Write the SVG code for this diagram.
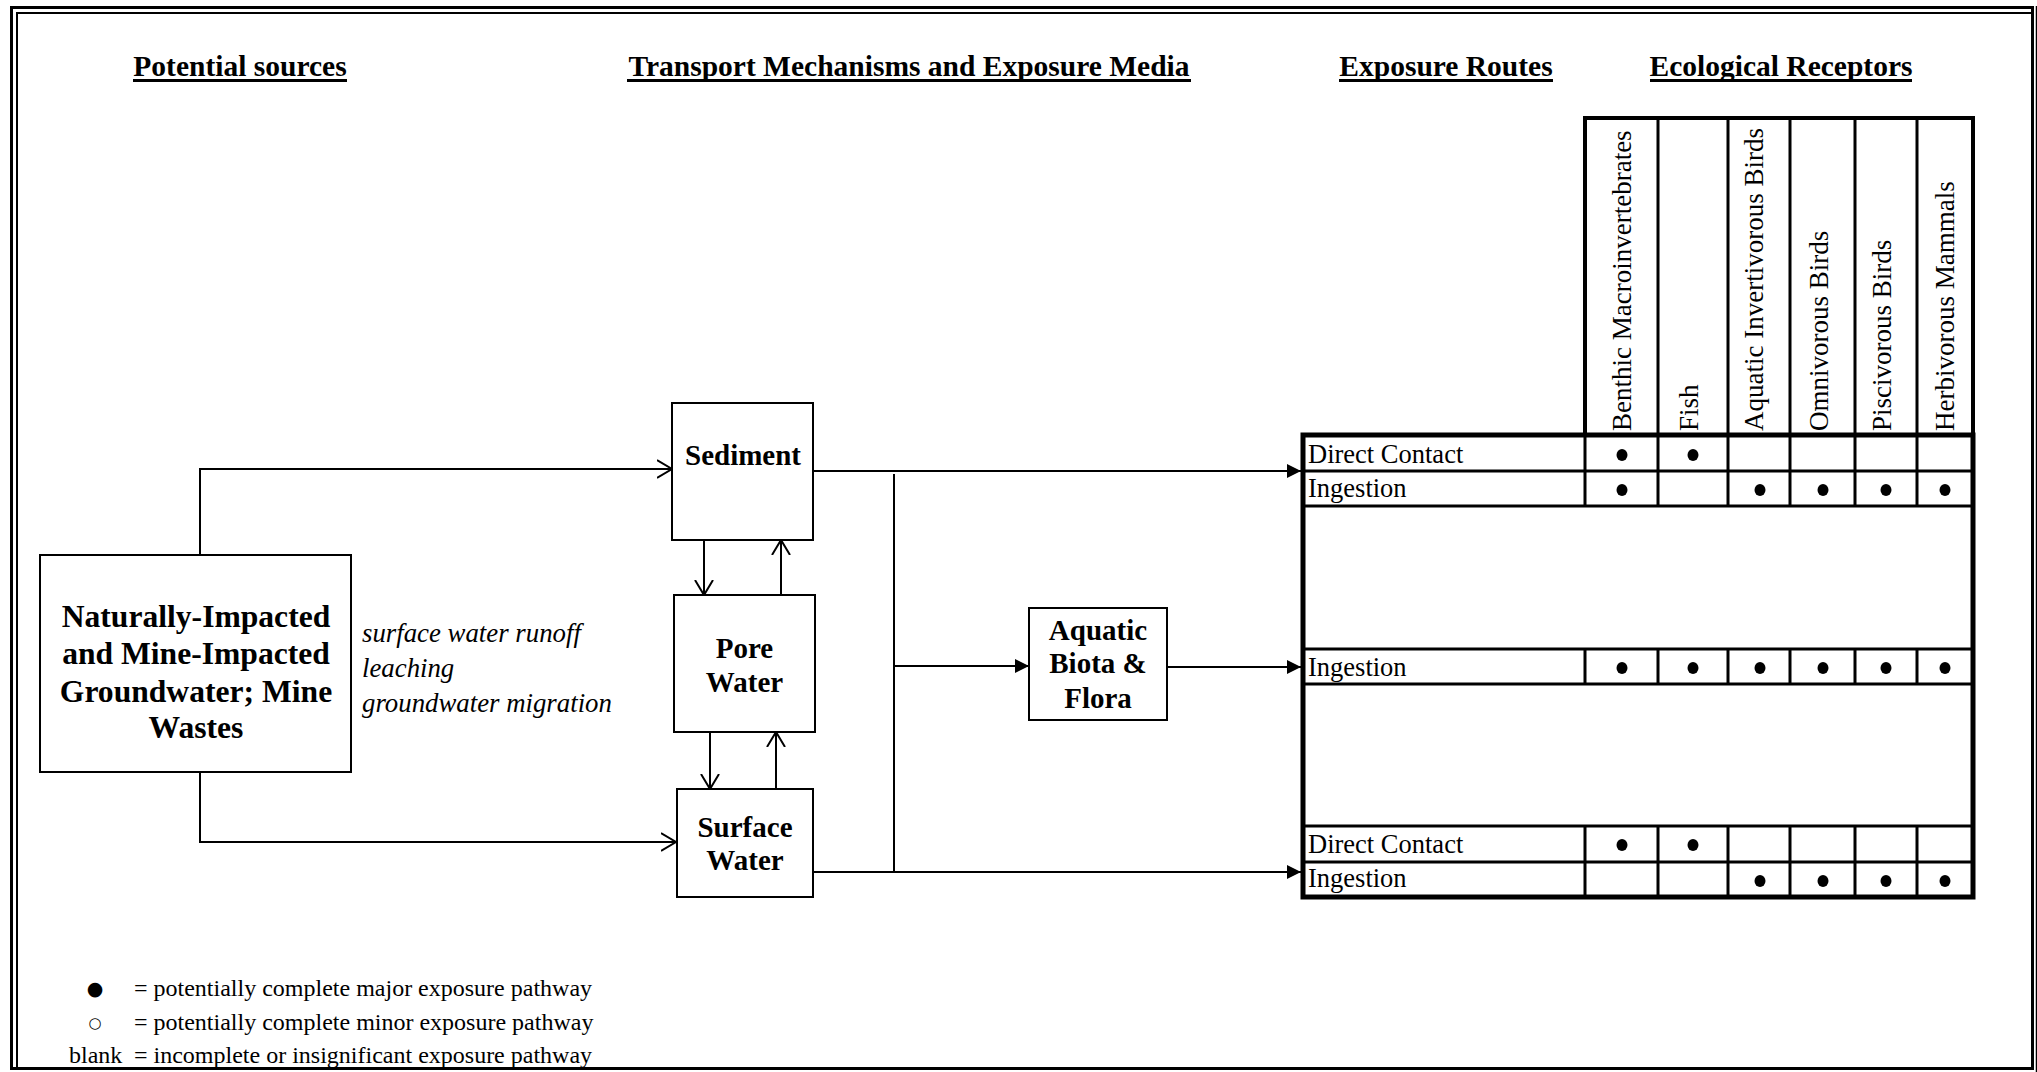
<svg xmlns="http://www.w3.org/2000/svg" width="2037" height="1072" viewBox="0 0 2037 1072">
<style>
.box{fill:#fff;stroke:#000;stroke-width:2}
.c{fill:none;stroke:#000;stroke-width:2}
.hdr{font-family:"Liberation Serif","Times New Roman",serif;font-weight:bold;font-size:29.5px;text-anchor:middle}
.bt{font-family:"Liberation Serif","Times New Roman",serif;font-weight:bold;font-size:29px;text-anchor:middle}
.src{font-family:"Liberation Serif","Times New Roman",serif;font-weight:bold;font-size:31.6px;text-anchor:middle}
.it{font-family:"Liberation Serif","Times New Roman",serif;font-style:italic;font-size:26.8px}
.rt{font-family:"Liberation Serif","Times New Roman",serif;font-size:26.5px}
.col{font-family:"Liberation Serif","Times New Roman",serif;font-size:27px}
.lg{font-family:"Liberation Serif","Times New Roman",serif;font-size:24px}
.sym{font-family:"DejaVu Sans",sans-serif;text-anchor:middle}
.ul{stroke:#000;stroke-width:3}
.tk{fill:none;stroke:#000;stroke-width:5}
.tl{stroke:#000;stroke-width:3}
.dot{fill:#000}
</style>
<defs>
<marker id="fa" markerUnits="userSpaceOnUse" markerWidth="15" markerHeight="15" refX="14" refY="7.5" orient="auto"><path d="M0,0.5 L14,7.5 L0,14.5 z" fill="#000"/></marker>
<marker id="oa" markerUnits="userSpaceOnUse" markerWidth="18" markerHeight="20" refX="15" refY="10" orient="auto"><path d="M0,1 L15,10 L0,19" fill="none" stroke="#000" stroke-width="2"/></marker>
</defs>
<rect width="2037" height="1072" fill="#fff"/>
<g id="frame">
<rect x="11.5" y="7.5" width="2021" height="1061" fill="none" stroke="#000" stroke-width="3"/>
<path d="M17,1067 V13 H2031" fill="none" stroke="#000" stroke-width="2"/>
<path d="M2036.5,6 V1072" fill="none" stroke="#000" stroke-width="1.5"/>
</g>
<g id="headers">
<text class="hdr" x="240" y="76">Potential sources</text>
<line class="ul" x1="133" y1="80.5" x2="347" y2="80.5"/>
<text class="hdr" x="909" y="76">Transport Mechanisms and Exposure Media</text>
<line class="ul" x1="627" y1="80.5" x2="1191" y2="80.5"/>
<text class="hdr" x="1446" y="76">Exposure Routes</text>
<line class="ul" x1="1339" y1="80.5" x2="1553" y2="80.5"/>
<text class="hdr" x="1781" y="76">Ecological Receptors</text>
<line class="ul" x1="1650" y1="80.5" x2="1912" y2="80.5"/>
</g>
<g id="connectors">
<path class="c" d="M200,555 V469 H672" marker-end="url(#oa)"/>
<path class="c" d="M200,772 V842 H676" marker-end="url(#oa)"/>
<path class="c" d="M704,540 V595" marker-end="url(#oa)"/>
<path class="c" d="M781,595 V540" marker-end="url(#oa)"/>
<path class="c" d="M710,732 V789" marker-end="url(#oa)"/>
<path class="c" d="M776,789 V732" marker-end="url(#oa)"/>
<path class="c" d="M813,471 H1301" marker-end="url(#fa)"/>
<path class="c" d="M894,474 V872"/>
<path class="c" d="M894,666 H1029" marker-end="url(#fa)"/>
<path class="c" d="M1167,667 H1301" marker-end="url(#fa)"/>
<path class="c" d="M813,872 H1301" marker-end="url(#fa)"/>
</g>
<g id="source">
<rect class="box" x="40" y="555" width="311" height="217"/>
<text class="src" x="196" y="627">Naturally-Impacted</text>
<text class="src" x="196" y="664">and Mine-Impacted</text>
<text class="src" x="196" y="702">Groundwater; Mine</text>
<text class="src" x="196" y="738">Wastes</text>
</g>
<g id="mechanisms">
<text class="it" x="362" y="642">surface water runoff</text>
<text class="it" x="362" y="677">leaching</text>
<text class="it" x="362" y="712">groundwater migration</text>
</g>
<g id="sediment">
<rect class="box" x="672" y="403" width="141" height="137"/>
<text class="bt" x="743" y="465">Sediment</text>
</g>
<g id="porewater">
<rect class="box" x="674" y="595" width="141" height="137"/>
<text class="bt" x="744.5" y="658">Pore</text>
<text class="bt" x="744.5" y="692">Water</text>
</g>
<g id="surfacewater">
<rect class="box" x="677" y="789" width="136" height="108"/>
<text class="bt" x="745" y="837">Surface</text>
<text class="bt" x="745" y="870">Water</text>
</g>
<g id="biota">
<rect class="box" x="1029" y="608" width="138" height="112"/>
<text class="bt" x="1098" y="640">Aquatic</text>
<text class="bt" x="1098" y="673">Biota &amp;</text>
<text class="bt" x="1098" y="708">Flora</text>
</g>
<g id="table">
<rect x="1585" y="118" width="388" height="317" fill="none" stroke="#000" stroke-width="4"/>
<rect class="tk" x="1303" y="435" width="670" height="462"/>
<g class="tl">
<line x1="1658" y1="118" x2="1658" y2="435"/>
<line x1="1728" y1="118" x2="1728" y2="435"/>
<line x1="1790" y1="118" x2="1790" y2="435"/>
<line x1="1855" y1="118" x2="1855" y2="435"/>
<line x1="1917" y1="118" x2="1917" y2="435"/>
<line x1="1303" y1="471" x2="1973" y2="471"/>
<line x1="1303" y1="506" x2="1973" y2="506"/>
<line x1="1303" y1="649" x2="1973" y2="649"/>
<line x1="1303" y1="684" x2="1973" y2="684"/>
<line x1="1303" y1="826" x2="1973" y2="826"/>
<line x1="1303" y1="862" x2="1973" y2="862"/>
<path d="M1585,435 V506 M1658,435 V506 M1728,435 V506 M1790,435 V506 M1855,435 V506 M1917,435 V506"/>
<path d="M1585,649 V684 M1658,649 V684 M1728,649 V684 M1790,649 V684 M1855,649 V684 M1917,649 V684"/>
<path d="M1585,826 V897 M1658,826 V897 M1728,826 V897 M1790,826 V897 M1855,826 V897 M1917,826 V897"/>
</g>
<text class="col" transform="translate(1631,431) rotate(-90)">Benthic Macroinvertebrates</text>
<text class="col" transform="translate(1698,431) rotate(-90)">Fish</text>
<text class="col" transform="translate(1763,431) rotate(-90)">Aquatic Invertivorous Birds</text>
<text class="col" transform="translate(1828,431) rotate(-90)">Omnivorous Birds</text>
<text class="col" transform="translate(1891,431) rotate(-90)">Piscivorous Birds</text>
<text class="col" transform="translate(1954,431) rotate(-90)">Herbivorous Mammals</text>
<text class="rt" x="1308" y="463">Direct Contact</text>
<text class="rt" x="1308" y="497">Ingestion</text>
<text class="rt" x="1308" y="676">Ingestion</text>
<text class="rt" x="1308" y="853">Direct Contact</text>
<text class="rt" x="1308" y="887">Ingestion</text>
<g class="dot">
<ellipse cx="1622" cy="455" rx="5.5" ry="6"/><ellipse cx="1693" cy="455" rx="5.5" ry="6"/>
<ellipse cx="1622" cy="490" rx="5.5" ry="6"/><ellipse cx="1760" cy="490" rx="5.5" ry="6"/><ellipse cx="1823" cy="490" rx="5.5" ry="6"/><ellipse cx="1886" cy="490" rx="5.5" ry="6"/><ellipse cx="1945" cy="490" rx="5.5" ry="6"/>
<ellipse cx="1622" cy="668" rx="5.5" ry="6"/><ellipse cx="1693" cy="668" rx="5.5" ry="6"/><ellipse cx="1760" cy="668" rx="5.5" ry="6"/><ellipse cx="1823" cy="668" rx="5.5" ry="6"/><ellipse cx="1886" cy="668" rx="5.5" ry="6"/><ellipse cx="1945" cy="668" rx="5.5" ry="6"/>
<ellipse cx="1622" cy="845" rx="5.5" ry="6"/><ellipse cx="1693" cy="845" rx="5.5" ry="6"/>
<ellipse cx="1760" cy="881" rx="5.5" ry="6"/><ellipse cx="1823" cy="881" rx="5.5" ry="6"/><ellipse cx="1886" cy="881" rx="5.5" ry="6"/><ellipse cx="1945" cy="881" rx="5.5" ry="6"/>
</g>
</g>
<g id="legend">
<text class="sym" x="95" y="995" font-size="19">●</text>
<text class="lg" x="134" y="996">= potentially complete major exposure pathway</text>
<text class="sym" x="95" y="1028" font-size="15">○</text>
<text class="lg" x="134" y="1030">= potentially complete minor exposure pathway</text>
<text class="lg" x="69" y="1063">blank</text>
<text class="lg" x="134" y="1063">= incomplete or insignificant exposure pathway</text>
</g>
</svg>
